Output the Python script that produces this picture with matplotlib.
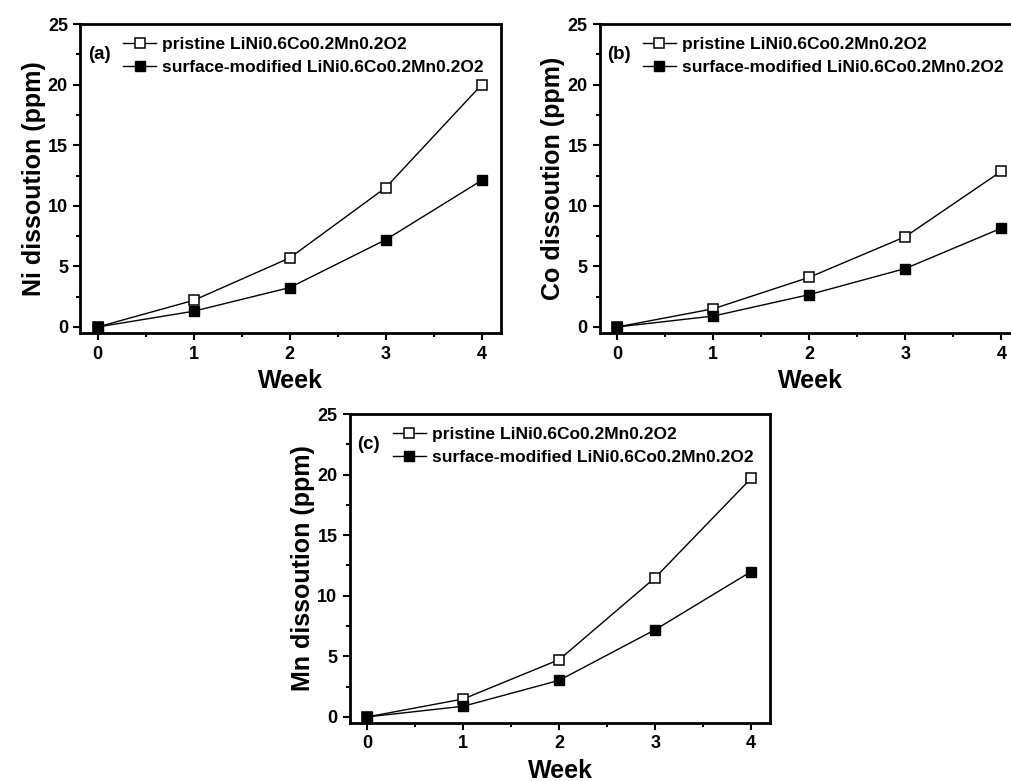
import numpy as np
import matplotlib
matplotlib.use('Agg')
import matplotlib.pyplot as plt
from matplotlib.ticker import MultipleLocator

plt.rcParams['font.family'] = ['Liberation Sans', 'DejaVu Sans']
plt.rcParams['font.weight'] = 'bold'

# data
weeks = [0, 1, 2, 3, 4]

ni_pristine = [0.0, 2.2, 5.7, 11.5, 20.0]
ni_modified = [0.0, 1.3, 3.25, 7.2, 12.1]

co_pristine = [0.0, 1.5, 4.1, 7.45, 12.85]
co_modified = [0.0, 0.9, 2.67, 4.82, 8.15]

mn_pristine = [0.0, 1.48, 4.73, 11.5, 19.7]
mn_modified = [0.0, 0.88, 3.02, 7.2, 12.0]

label_pristine = 'pristine LiNi0.6Co0.2Mn0.2O2'
label_modified = 'surface-modified LiNi0.6Co0.2Mn0.2O2'

panels = [
    ('(a)', 'Ni dissoution (ppm)', ni_pristine, ni_modified, [0.0795, 0.5736, 0.4155, 0.3956]),
    ('(b)', 'Co dissoution (ppm)', co_pristine, co_modified, [0.5929, 0.5736, 0.4155, 0.3956]),
    ('(c)', 'Mn dissoution (ppm)', mn_pristine, mn_modified, [0.3458, 0.0743, 0.4155, 0.3956]),
]

fig = plt.figure(figsize=(10.12, 7.81), dpi=100)

for tag, ylabel, y_pri, y_mod, rect in panels:
    ax = fig.add_axes(rect)
    ax.plot(weeks, y_pri, color='black', linewidth=1.0, marker='s', markersize=7,
            markerfacecolor='white', markeredgecolor='black', markeredgewidth=1.1,
            label=label_pristine)
    ax.plot(weeks, y_mod, color='black', linewidth=1.0, marker='s', markersize=7,
            markerfacecolor='black', markeredgecolor='black',
            label=label_modified)

    ax.set_xlim(-0.18, 4.2)
    ax.set_ylim(-0.5, 25)
    ax.xaxis.set_major_locator(MultipleLocator(1))
    ax.xaxis.set_minor_locator(MultipleLocator(0.5))
    ax.yaxis.set_major_locator(MultipleLocator(5))
    ax.yaxis.set_minor_locator(MultipleLocator(2.5))
    ax.tick_params(which='both', direction='out', top=False, right=False, width=1.5)
    ax.tick_params(which='major', length=5, labelsize=13, pad=4)
    ax.tick_params(which='minor', length=3)
    for lbl in ax.get_xticklabels() + ax.get_yticklabels():
        lbl.set_fontweight('bold')
    for sp in ax.spines.values():
        sp.set_linewidth(2)

    ax.set_xlabel('Week', fontsize=18, fontweight='bold', labelpad=4.5)
    ax.set_ylabel(ylabel, fontsize=18, fontweight='bold', labelpad=1.5)

    ax.text(0.018, 0.9, tag, transform=ax.transAxes, fontsize=13.5,
            fontweight='bold', va='center', ha='left')
    ax.legend(loc='upper left', bbox_to_anchor=(0.102, 0.958), frameon=False,
              handlelength=1.9, handletextpad=0.35,
              labelspacing=0.45, borderpad=0, borderaxespad=0,
              prop={'weight': 'bold', 'size': 12.5})

fig.savefig('out.png', dpi=100)
